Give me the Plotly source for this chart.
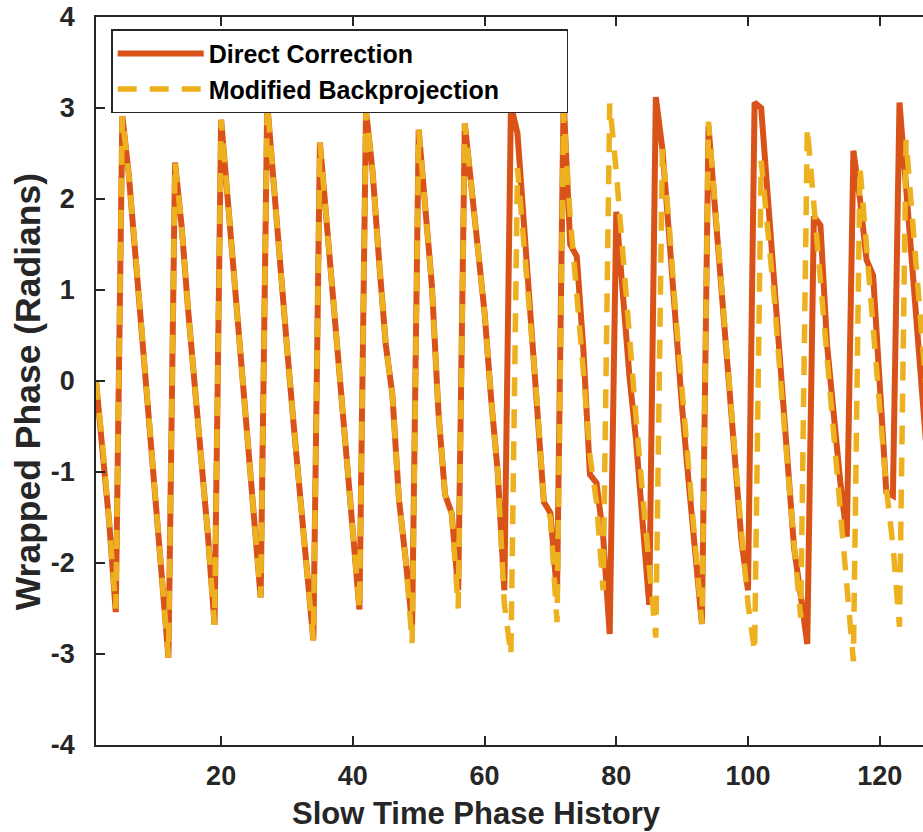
import plotly.graph_objects as go

# ---- data ----
sample_index = list(range(1, 128))

direct_correction = [
    0.00, -0.70, -1.55, -2.54, 2.91, 2.25, 1.40, 0.52, -0.37, -1.26,
    -2.15, -3.04, 2.40, 1.70, 0.77, -0.04, -0.85, -1.70, -2.68, 2.87,
    2.00, 1.12, 0.25, -0.63, -1.50, -2.38, 3.05, 2.10, 1.22, 0.37,
    -0.47, -1.30, -2.10, -2.85, 2.62, 1.75, 0.85, 0.00, -0.85, -1.60,
    -2.51, 2.97, 2.30, 1.30, 0.40, -0.15, -1.30, -1.95, -2.68, 2.76,
    1.85, 1.05, -0.35, -1.25, -1.45, -2.30, 2.83, 2.15, 1.40, 0.75,
    -0.20, -1.00, -2.30, 3.03, 2.72, 1.70, 0.75, -0.20, -1.33, -1.45,
    -2.34, 3.10, 1.50, 1.37, 0.35, -1.03, -1.12, -1.70, -2.78, 1.86,
    0.95, 0.05, -0.65, -1.60, -2.46, 3.12, 2.55, 1.62, 0.55, -0.30,
    -1.12, -1.95, -2.67, 2.80, 1.85, 0.98, 0.08, -0.90, -1.75, -2.30,
    3.06, 3.00, 2.05, 1.08, 0.10, -0.87, -1.84, -2.35, -2.89, 1.81,
    1.71, 0.40, -0.40, -1.10, -1.71, 2.53, 2.00, 1.33, 1.16, -0.10,
    -1.22, -1.26, 3.06, 2.13, 1.20, 0.28, -0.65,
]

modified_backprojection = [
    0.00, -0.70, -1.55, -2.50, 2.91, 2.25, 1.40, 0.52, -0.37, -1.26,
    -2.15, -3.04, 2.40, 1.70, 0.77, -0.04, -0.85, -1.70, -2.68, 2.87,
    2.00, 1.12, 0.25, -0.63, -1.50, -2.38, 3.05, 2.10, 1.22, 0.37,
    -0.47, -1.30, -2.10, -2.85, 2.62, 1.75, 0.85, 0.00, -0.85, -1.60,
    -2.51, 2.97, 2.30, 1.30, 0.40, -0.15, -1.30, -1.95, -2.88, 2.76,
    1.85, 1.05, -0.35, -1.25, -1.45, -2.50, 2.83, 2.15, 1.40, 0.75,
    -0.20, -1.00, -2.45, -3.01, 2.34, 1.50, 0.65, -0.25, -1.33, -1.50,
    -2.65, 2.95, 1.80, 0.86, 0.10, -0.82, -1.33, -2.30, 3.05, 2.30,
    1.35, 0.50, -0.40, -1.25, -2.10, -2.82, 2.55, 1.75, 0.75, -0.15,
    -1.00, -1.85, -2.67, 2.85, 1.90, 1.05, 0.15, -0.80, -1.65, -2.45,
    -2.97, 2.42, 1.66, 0.90, -0.05, -1.00, -1.80, -2.60, 2.78, 1.94,
    1.10, 0.27, -0.57, -1.40, -2.24, -3.08, 2.35, 1.45, 0.55, -0.45,
    -1.17, -1.80, -2.70, 2.65, 1.75, 0.85, -0.05,
]

series_names = ["Direct Correction", "Modified Backprojection"]

x_tick_values = [20, 40, 60, 80, 100, 120]
x_tick_labels = ["20", "40", "60", "80", "100", "120"]
y_tick_values = [-4, -3, -2, -1, 0, 1, 2, 3, 4]
y_tick_labels = ["-4", "-3", "-2", "-1", "0", "1", "2", "3", "4"]

x_title = "Slow Time Phase History"
y_title = "Wrapped Phase (Radians)"

# ---- styling ----
AXIS_COLOR = "#262626"
FONT = "Liberation Sans, Arial, Helvetica, sans-serif"
LEGEND_PAD = "\u00a0" * 9  # widen the legend box like MATLAB's

fig = go.Figure()
fig.add_trace(go.Scatter(
    x=sample_index, y=direct_correction, mode="lines",
    name=series_names[0],
    line=dict(color="#D95319", width=6),
))
fig.add_trace(go.Scatter(
    x=sample_index, y=modified_backprojection, mode="lines",
    name=series_names[1] + LEGEND_PAD,
    line=dict(color="#EDB120", width=5.5, dash="19px,13px"),
))

axis_common = dict(
    showgrid=False, zeroline=False, showline=True,
    linecolor=AXIS_COLOR, linewidth=1.5,
    ticks="inside", ticklen=9, tickwidth=1.5, tickcolor=AXIS_COLOR,
    tickfont=dict(family=FONT, size=27, color=AXIS_COLOR, weight="bold"),
)

fig.update_xaxes(
    range=[1, 126.57], tickmode="array",
    tickvals=x_tick_values, ticktext=x_tick_labels,
    mirror="ticks", ticklabelstandoff=6, **axis_common,
)
fig.update_yaxes(
    range=[-4, 4], tickmode="array",
    tickvals=y_tick_values, ticktext=y_tick_labels,
    mirror=False, ticklabelstandoff=14, **axis_common,
)

fig.add_annotation(
    text=x_title, xref="paper", yref="paper", x=0.4604, y=0,
    xanchor="center", yanchor="middle", yshift=-68, showarrow=False,
    font=dict(family=FONT, size=31, color=AXIS_COLOR, weight="bold"),
)
fig.add_annotation(
    text=y_title, xref="paper", yref="paper", x=0, y=0.4845,
    xanchor="center", yanchor="middle", xshift=-68, textangle=-90,
    showarrow=False,
    font=dict(family=FONT, size=35.5, color=AXIS_COLOR, weight="bold"),
)

fig.update_layout(
    width=923, height=832,
    margin=dict(l=95.5, r=0, t=16.7, b=87.3, pad=0),
    paper_bgcolor="white", plot_bgcolor="white",
    showlegend=True,
    legend=dict(
        x=0.0184, y=0.9831, xanchor="left", yanchor="top",
        bgcolor="white", bordercolor=AXIS_COLOR, borderwidth=1.5,
        font=dict(family=FONT, size=25, color="#000000", weight="bold"),
        itemwidth=86, tracegroupgap=0,
    ),
)

fig.write_html("out.html")
